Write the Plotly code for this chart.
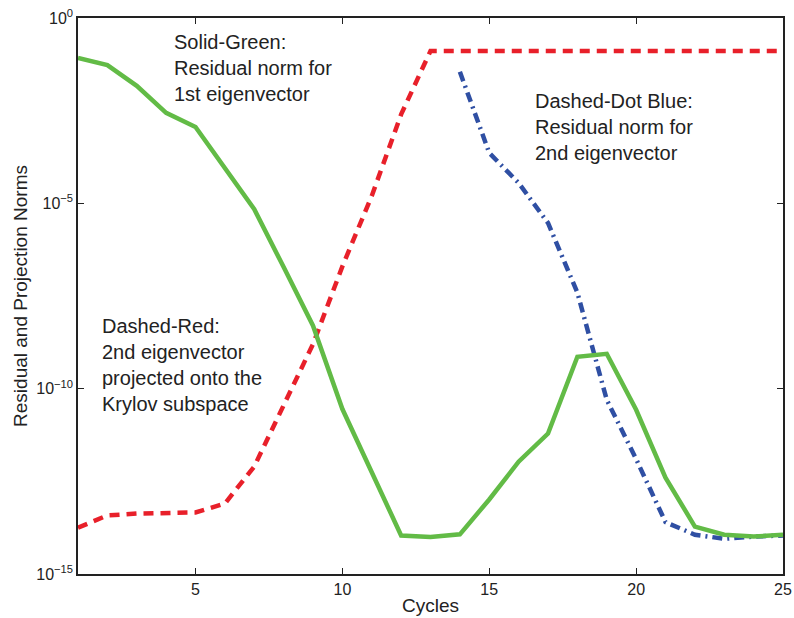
import plotly.graph_objects as go

cycles = list(range(1, 26))
green_log = [-1.08, -1.27, -1.83, -2.56, -2.94, -4.04, -5.16, -6.72, -8.3, -10.55,
             -12.26, -13.96, -14.0, -13.93, -12.99, -11.97, -11.21, -9.14, -9.06,
             -10.57, -12.4, -13.72, -13.94, -13.99, -13.94]
red_log = [-13.75, -13.42, -13.37, -13.35, -13.34, -13.1, -12.1, -10.45, -8.8, -6.7,
           -4.8, -2.6, -0.89, -0.89, -0.89, -0.89, -0.89, -0.89, -0.89, -0.89,
           -0.89, -0.89, -0.89, -0.89, -0.89]
blue_cycles = list(range(14, 26))
blue_log = [-1.45, -3.64, -4.45, -5.53, -7.41, -10.3, -11.9, -13.6, -13.94, -14.05,
            -13.99, -13.96]
y_tick_vals = [1e-15, 1e-10, 1e-5, 1]
y_tick_text = ["10<sup>−15</sup>", "10<sup>−10</sup>", "10<sup>−5</sup>", "10<sup>0</sup>"]
x_tick_vals = [5, 10, 15, 20, 25]

green = [10 ** v for v in green_log]
red = [10 ** v for v in red_log]
blue = [10 ** v for v in blue_log]

FONT = "Liberation Sans, Arial, sans-serif"
fig = go.Figure()
fig.add_trace(go.Scatter(x=cycles, y=red, mode="lines",
                         line=dict(color="#E8202A", width=4.5, dash="10px,7px")))
fig.add_trace(go.Scatter(x=blue_cycles, y=blue, mode="lines",
                         line=dict(color="#2F4FA3", width=4.5, dash="10px,5px,2px,5px")))
fig.add_trace(go.Scatter(x=cycles, y=green, mode="lines",
                         line=dict(color="#62BB46", width=4.5)))

font_txt = dict(family=FONT, size=20, color="#222")
fig.add_annotation(x=4.2, y=-0.3, xref="x", yref="y", text="Solid-Green:<br>Residual norm for<br>1st eigenvector",
                   showarrow=False, xanchor="left", yanchor="top", align="left", font=font_txt)
fig.add_annotation(x=16.5, y=-1.9, xref="x", yref="y", text="Dashed-Dot Blue:<br>Residual norm for<br>2nd eigenvector",
                   showarrow=False, xanchor="left", yanchor="top", align="left", font=font_txt)
fig.add_annotation(x=1.75, y=-7.95, xref="x", yref="y", text="Dashed-Red:<br>2nd eigenvector<br>projected onto the<br>Krylov subspace",
                   showarrow=False, xanchor="left", yanchor="top", align="left", font=font_txt)

axis_common = dict(showline=True, linecolor="#222", linewidth=1.5, mirror="ticks",
                   ticks="inside", ticklen=6, tickcolor="#222", showgrid=False, zeroline=False,
                   automargin=False,
                   tickfont=dict(family=FONT, size=16, color="#222"))
fig.update_xaxes(range=[1, 25], tickvals=x_tick_vals,
                 title=dict(text="Cycles", font=dict(family=FONT, size=19, color="#222"), standoff=2),
                 **axis_common)
fig.update_yaxes(type="log", range=[-15, 0], tickvals=y_tick_vals, ticktext=y_tick_text,
                 title=dict(text="Residual and Projection Norms", font=dict(family=FONT, size=19, color="#222"), standoff=4),
                 **axis_common)
fig.update_layout(width=794, height=618, showlegend=False, plot_bgcolor="white", paper_bgcolor="white",
                  margin=dict(l=78, r=11, t=18, b=44))
fig.write_html("out.html")
